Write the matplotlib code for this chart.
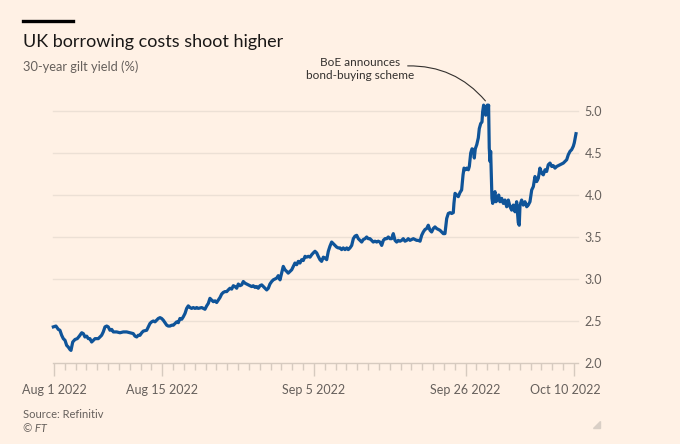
import matplotlib
matplotlib.use("Agg")
import matplotlib.pyplot as plt
import matplotlib.transforms as mtransforms
from matplotlib.patches import FancyArrowPatch, Polygon
from matplotlib.lines import Line2D

plt.rcParams['font.family'] = ['Lato', 'DejaVu Sans']

# ---- data: trading-day position (0 = Aug 1 2022) and 30-year gilt yield (%) ----
day_pos = [
    -0.06, 0.18, 0.40, 0.55, 0.71, 0.86, 1.02, 1.17, 1.32, 1.48, 1.57, 1.73, 1.94, 2.15, 2.34, 2.56,
    2.71, 2.86, 3.02, 3.17, 3.32, 3.48, 3.63, 3.79, 3.94, 4.09, 4.25, 4.40, 4.55, 4.71, 4.87, 5.01,
    5.17, 5.33, 5.48, 5.79, 6.09, 6.40, 6.71, 7.02, 7.32, 7.48, 7.64, 7.78, 7.94, 8.10, 8.25, 8.56,
    8.71, 8.86, 9.02, 9.17, 9.33, 9.48, 9.63, 9.79, 9.94, 10.09, 10.25, 10.41, 10.55, 10.71, 10.87,
    11.02, 11.17, 11.33, 11.48, 11.63, 11.79, 11.94, 12.10, 12.25, 12.40, 12.56, 12.71, 12.86, 13.02,
    13.18, 13.32, 13.64, 13.79, 13.94, 14.10, 14.25, 14.40, 14.56, 14.71, 14.87, 15.02, 15.17, 15.33,
    15.48, 15.63, 15.79, 15.95, 16.09, 16.25, 16.41, 16.56, 16.71, 16.87, 17.02, 17.17, 17.33, 17.48,
    17.64, 17.79, 17.94, 18.10, 18.25, 18.40, 18.56, 18.72, 18.86, 19.02, 19.18, 19.33, 19.48, 19.64,
    19.79, 19.94, 20.10, 20.25, 20.41, 20.56, 20.71, 20.87, 21.02, 21.17, 21.33, 21.49, 21.63, 21.79,
    21.95, 22.10, 22.25, 22.41, 22.56, 22.71, 22.87, 23.02, 23.18, 23.33, 23.48, 23.64, 23.80, 23.94,
    24.10, 24.26, 24.40, 24.56, 24.71, 24.87, 25.02, 25.18, 25.33, 25.48, 25.64, 25.79, 25.95, 26.10,
    26.25, 26.41, 26.56, 26.71, 26.87, 27.03, 27.17, 27.33, 27.49, 27.64, 27.79, 27.95, 28.10, 28.25,
    28.41, 28.56, 28.72, 28.87, 29.02, 29.18, 29.33, 29.48, 29.64, 29.80, 29.94, 30.10, 30.26, 30.41,
    30.56, 30.72, 30.87, 31.02, 31.18, 31.33, 31.49, 31.64, 31.79, 31.95, 32.10, 32.25, 32.41, 32.57,
    32.71, 32.87, 33.03, 33.18, 33.33, 33.49, 33.64, 33.80, 33.95, 34.10, 34.26, 34.41, 34.56, 34.72,
    34.87, 35.02, 35.18, 35.34, 35.48, 35.64, 35.80, 35.95, 36.10, 36.26, 36.41, 36.57, 36.72, 36.87,
    36.93, 37.03, 37.18, 37.33, 37.49, 37.64, 37.77, 37.86, 37.98, 38.11, 38.26, 38.35, 38.48, 38.60,
    38.72, 38.81, 38.90, 39.04, 39.18, 39.27, 39.40, 39.52, 39.58, 39.67, 39.77, 39.86, 39.95, 40.01,
    40.07, 40.13, 40.19, 40.26, 40.32, 40.38, 40.44, 40.51, 40.63, 40.72, 40.81, 40.93, 41.06, 41.18,
    41.34, 41.49, 41.64, 41.80, 41.95, 42.11, 42.26, 42.41, 42.57, 42.72, 42.87, 42.96, 43.03, 43.18,
    43.33, 43.49, 43.65, 43.79, 43.95, 44.11, 44.26, 44.41, 44.57, 44.72, 44.87, 45.03, 45.18, 45.34,
    45.49, 45.64, 45.80, 45.96, 46.10, 46.26, 46.42, 46.72, 47.03, 47.18, 47.34, 47.49, 47.65, 47.80,
    47.95, 48.04, 48.20,
]
yield_pct = [
    2.43, 2.44, 2.40, 2.39, 2.33, 2.29, 2.27, 2.21, 2.19, 2.16, 2.15, 2.25, 2.28, 2.29, 2.32, 2.36,
    2.35, 2.31, 2.32, 2.29, 2.29, 2.25, 2.27, 2.29, 2.29, 2.29, 2.31, 2.33, 2.37, 2.43, 2.44, 2.43,
    2.39, 2.40, 2.37, 2.37, 2.36, 2.37, 2.37, 2.36, 2.35, 2.32, 2.31, 2.33, 2.33, 2.36, 2.38, 2.39,
    2.43, 2.47, 2.49, 2.50, 2.49, 2.51, 2.53, 2.54, 2.53, 2.51, 2.48, 2.45, 2.44, 2.44, 2.45,
    2.45, 2.47, 2.49, 2.48, 2.53, 2.52, 2.55, 2.59, 2.65, 2.68, 2.66, 2.65, 2.66, 2.65,
    2.66, 2.65, 2.66, 2.65, 2.64, 2.68, 2.71, 2.77, 2.75, 2.73, 2.74, 2.72, 2.75, 2.78,
    2.82, 2.84, 2.85, 2.85, 2.87, 2.89, 2.88, 2.92, 2.91, 2.89, 2.94, 2.92, 2.93, 2.97,
    2.95, 2.94, 2.93, 2.92, 2.91, 2.92, 2.90, 2.91, 2.89, 2.92, 2.93, 2.91, 2.89, 2.87,
    2.89, 2.94, 2.97, 2.99, 3.00, 3.01, 3.04, 2.99, 3.07, 3.15, 3.11, 3.09, 3.07, 3.09,
    3.11, 3.15, 3.19, 3.17, 3.21, 3.19, 3.23, 3.22, 3.27, 3.26, 3.27, 3.26, 3.29, 3.31,
    3.33, 3.31, 3.27, 3.23, 3.21, 3.26, 3.25, 3.23, 3.33, 3.39, 3.44, 3.42, 3.40, 3.38,
    3.37, 3.37, 3.35, 3.37, 3.35, 3.37, 3.35, 3.37, 3.40, 3.48, 3.51, 3.52, 3.48, 3.46,
    3.44, 3.47, 3.48, 3.50, 3.48, 3.48, 3.46, 3.44, 3.45, 3.44, 3.45, 3.44, 3.40, 3.46,
    3.48, 3.48, 3.50, 3.48, 3.48, 3.54, 3.46, 3.44, 3.46, 3.45, 3.46, 3.48, 3.45, 3.46,
    3.48, 3.46, 3.47, 3.48, 3.47, 3.46, 3.46, 3.45, 3.52, 3.56, 3.59, 3.60, 3.64, 3.58,
    3.56, 3.60, 3.62, 3.60, 3.59, 3.58, 3.56, 3.54, 3.54, 3.72, 3.78, 3.79, 3.78, 3.79,
    3.90, 4.02, 4.00, 3.98, 4.03, 4.06, 4.24, 4.32, 4.30, 4.32, 4.30, 4.34, 4.50, 4.55,
    4.54, 4.44, 4.55, 4.60, 4.68, 4.79, 4.85, 4.87, 4.99, 5.07, 5.01, 4.95, 5.05, 5.07,
    4.99, 5.07, 4.56, 4.40, 4.52, 4.24, 3.96, 3.90, 4.00, 4.04, 3.92, 3.94, 4.00, 3.92,
    3.96, 3.90, 3.94, 3.86, 3.94, 3.86, 3.82, 3.88, 3.80, 3.92, 3.67, 3.64, 3.88, 3.94,
    3.88, 3.92, 3.86, 3.88, 3.92, 4.06, 4.10, 4.22, 4.16, 4.20, 4.32, 4.26, 4.24, 4.30,
    4.28, 4.36, 4.38, 4.34, 4.35, 4.32, 4.34, 4.36, 4.38, 4.40, 4.42, 4.48, 4.52, 4.54,
    4.58, 4.62, 4.73,
]

n_trading_days = 49                     # Aug 1 .. Oct 10 2022 (UK trading days)
label_days = [0, 10, 24, 38, 48]
label_text = ["Aug 1 2022", "Aug 15 2022", "Sep 5 2022", "Sep 26 2022", "Oct 10 2022"]
y_ticks = [2.0, 2.5, 3.0, 3.5, 4.0, 4.5, 5.0]
y_tick_labels = ["2.0", "2.5", "3.0", "3.5", "4.0", "4.5", "5.0"]

title = "UK borrowing costs shoot higher"
subtitle = "30-year gilt yield (%)"
annotation = "BoE announces\nbond-buying scheme"
peak_day, peak_val = 40.0, 5.095
source = "Source: Refinitiv"
credit = "© FT"

BG = "#fff1e5"
LINE = "#0f5499"
GRID = "#ece0d5"
AXIS = "#d6cabf"
GREY = "#66605c"
DARK = "#33302e"

W, H = 680, 444
fig = plt.figure(figsize=(W / 100, H / 100), dpi=100, facecolor=BG)

def fx(px):
    return px / W

def fy(py):
    return 1 - py / H

# axes: x from 52.9 px to 576 px, y from 363 px (2.0) to 90 px (5.25)
ax = fig.add_axes([fx(52.9), fy(363), fx(576) - fx(52.9), fy(90) - fy(363)])
ax.set_facecolor(BG)
ax.set_xlim(-0.1, 48.2)
ax.set_ylim(2.0, 5.25)

for s in ax.spines.values():
    s.set_visible(False)

# horizontal gridlines (extend slightly beyond the axes on the right)
for v in y_ticks[1:]:
    ax.add_line(Line2D([-0.1, 48.4], [v, v], color=GRID, lw=1.0, zorder=1, clip_on=False))
ax.add_line(Line2D([-0.1, 48.4], [2.0, 2.0], color=AXIS, lw=1.0, zorder=1, clip_on=False))

ax.plot(day_pos, yield_pct, color=LINE, lw=2.3, solid_joinstyle='round', zorder=3, clip_on=False)

# y ticks on the right
ax.yaxis.tick_right()
ax.set_yticks(y_ticks)
ax.set_yticklabels(y_tick_labels)
ax.tick_params(axis='y', length=0, pad=6, labelsize=9, labelcolor=GREY)

# x ticks: one per trading day, longer at labels
ax.set_xticks(label_days)
ax.set_xticklabels(label_text)
ax.set_xticks(list(range(n_trading_days)), minor=True)
ax.tick_params(axis='x', which='major', length=9, width=1, color=AXIS, pad=6,
               labelsize=9, labelcolor=GREY)
ax.tick_params(axis='x', which='minor', length=5, width=1, color=AXIS)
last = ax.get_xticklabels()[-1]
last.set_transform(last.get_transform() + mtransforms.ScaledTranslation(-9 / 100, 0, fig.dpi_scale_trans))

# annotation
ax.text(28.3, 5.50, annotation, ha='center', va='center', fontsize=8.5, color=DARK,
        linespacing=1.15, clip_on=False)
arc = FancyArrowPatch((32.4, 5.536), (peak_day, peak_val), arrowstyle='-',
                      connectionstyle="arc3,rad=-0.25", color=DARK, lw=0.8,
                      clip_on=False, zorder=4)
ax.add_patch(arc)

# header
fig.add_artist(Line2D([fx(23), fx(73)], [fy(21), fy(21)], color="#000000", lw=2.4))
fig.text(fx(23), fy(47), title, fontsize=13, color="#1a1817", va='baseline', ha='left')
fig.text(fx(23), fy(71), subtitle, fontsize=9.3, color=GREY, va='baseline', ha='left')

# footer
fig.text(fx(23), fy(418), source, fontsize=8, color=GREY, va='baseline', ha='left')
fig.text(fx(23), fy(432), credit, fontsize=8, color=GREY, va='baseline', ha='left', style='italic')

# small corner mark
fig.add_artist(Polygon([[fx(600), fy(421)], [fx(600), fy(428)], [fx(593), fy(428)]],
                       closed=True, color="#d9cfc6", transform=fig.transFigure))

fig.savefig("out.png", dpi=100, facecolor=BG)
